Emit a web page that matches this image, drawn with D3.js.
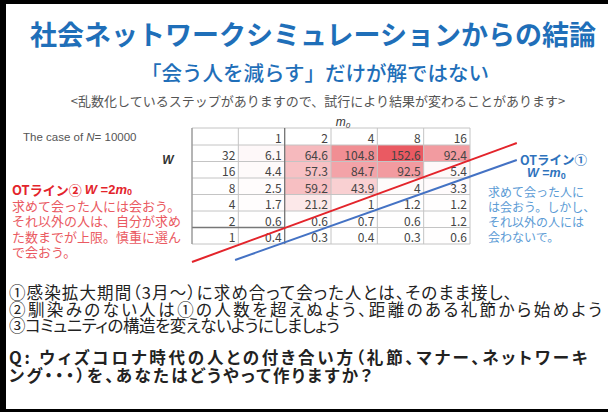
<!DOCTYPE html>
<html>
<head>
<meta charset="utf-8">
<script src="https://cdn.jsdelivr.net/npm/d3@7"></script>
<style>
  body { margin: 0; background: #000; }
  svg { display: block; font-family: "Noto Sans CJK JP", "Noto Sans", sans-serif; }
</style>
</head>
<body>
<div id="main"></div>
<script>
(function(){

  // table data: W rows x m0 columns
  const mValues = [1, 2, 4, 8, 16]
  const wValues = [32, 16, 8, 4, 2, 1]
  const cellValues = [
    [6.1, 64.6, 104.8, 152.6, 92.4],
    [4.4, 57.3, 84.7, 92.5, 5.4],
    [2.5, 59.2, 43.9, 4, 3.3],
    [1.7, 21.2, 1, 1.2, 1.2],
    [0.6, 0.6, 0.7, 0.6, 1.2],
    [0.4, 0.3, 0.4, 0.3, 0.6]
  ]

  // OT lines, endpoints in table grid units [column, row]
  const otLine2 = [[0, 7.09], [7.01, -0.12]]
  const otLine1 = [[0.93, 6.97], [7.01, 0.91]]

  const title = "社会ネットワークシミュレーションからの結論"
  const subtitle = "「会う人を減らす」だけが解ではない"
  const note = "<乱数化しているステップがありますので、試行により結果が変わることがあります>"
  const redLines = ["求めて会った人には会おう。", "それ以外の人は、自分が求め", "た数までが上限。慎重に選ん", "で会おう。"]
  const blueLines = ["求めて会った人に", "は会おう。しかし、", "それ以外の人には", "会わないで。"]
  const bodyLines = [
    "①感染拡大期間（3月～）に求め合って会った人とは、そのまま接し、",
    "②馴染みのない人は①の人数を超えぬよう、距離のある礼節から始めよう",
    "③コミュニティの構造を変えないようにしましょう"
  ]
  const questionLines = [
    "Q: ウィズコロナ時代の人との付き合い方（礼節、マナー、ネットワーキ",
    "ング・・・）を、あなたはどうやって作りますか？"
  ]

  // layout: rendered widths of the long text lines
  const bodyWidths = [503, 593, 331]
  const questionWidths = [578, 363]

  const width = 608
  const height = 412

  const svg = d3.select("#main").append("svg")
    .attr("width", width)
    .attr("height", height)

  svg.append("rect").attr("width", width).attr("height", height).attr("fill", "#000")
  svg.append("rect")
    .attr("x", 6).attr("y", 4)
    .attr("width", width - 6).attr("height", height - 7)
    .attr("fill", "#fff")

  // headings
  svg.append("text")
    .attr("x", 313).attr("y", 33)
    .attr("text-anchor", "middle").attr("dominant-baseline", "central")
    .attr("font-size", 27).attr("font-weight", "bold")
    .attr("fill", "#1f6fb9")
    .text(title)

  svg.append("text")
    .attr("x", 315).attr("y", 72)
    .attr("text-anchor", "middle").attr("dominant-baseline", "central")
    .attr("font-size", 20.5).attr("font-weight", 500)
    .attr("fill", "#1f6fb9")
    .text(subtitle)

  svg.append("text")
    .attr("x", 318).attr("y", 100)
    .attr("text-anchor", "middle").attr("dominant-baseline", "central")
    .attr("font-size", 13)
    .attr("fill", "#555")
    .text(note)

  // table scales
  const colX = d3.scaleLinear().domain([0, 6]).range([192, 470])
  const rowY = d3.scaleLinear().domain([0, 6]).range([145, 244])
  const headTop = 128

  const color = d3.scaleLinear()
    .domain([0, d3.max(cellValues.flat())])
    .range(["#ffffff", "#ea5a62"])

  const table = svg.append("g").attr("font-size", 12).attr("fill", "#444")

  const rows = cellValues.map((vals, i) => vals.map((v, j) => ({ v, i, j }))).flat()

  table.selectAll("rect.cell")
    .data(rows)
    .join("rect")
    .attr("class", "cell")
    .attr("x", d => colX(d.j + 1))
    .attr("y", d => rowY(d.i))
    .attr("width", colX(1) - colX(0))
    .attr("height", rowY(1) - rowY(0))
    .attr("fill", d => color(d.v))

  // grid lines
  const grid = table.append("g").attr("stroke", "#c4c4c4").attr("stroke-width", 1)
  d3.range(0, 7).forEach(k => {
    grid.append("line")
      .attr("x1", colX(0)).attr("x2", colX(6))
      .attr("y1", rowY(k)).attr("y2", rowY(k))
  })
  grid.append("line")
    .attr("x1", colX(0)).attr("x2", colX(6))
    .attr("y1", headTop).attr("y2", headTop)
  d3.range(0, 7).forEach(k => {
    grid.append("line")
      .attr("x1", colX(k)).attr("x2", colX(k))
      .attr("y1", headTop).attr("y2", rowY(6))
  })
  table.append("line")
    .attr("x1", colX(2)).attr("x2", colX(2))
    .attr("y1", headTop).attr("y2", rowY(6))
    .attr("stroke", "#777").attr("stroke-width", 1.3)
  table.append("line")
    .attr("x1", colX(0)).attr("x2", colX(2))
    .attr("y1", rowY(5)).attr("y2", rowY(5))
    .attr("stroke", "#777").attr("stroke-width", 1.3)
  table.append("line")
    .attr("x1", colX(0)).attr("x2", colX(0))
    .attr("y1", headTop).attr("y2", rowY(6))
    .attr("stroke", "#888")

  // header numbers
  table.selectAll("text.head")
    .data(mValues)
    .join("text")
    .attr("class", "head")
    .attr("x", (d, j) => colX(j + 2) - 3)
    .attr("y", (headTop + rowY(0)) / 2 + 1)
    .attr("text-anchor", "end").attr("dominant-baseline", "central")
    .text(d => d)

  table.selectAll("text.wval")
    .data(wValues)
    .join("text")
    .attr("class", "wval")
    .attr("x", colX(1) - 3)
    .attr("y", (d, i) => rowY(i + 0.5) + 1)
    .attr("text-anchor", "end").attr("dominant-baseline", "central")
    .text(d => d)

  table.selectAll("text.cellv")
    .data(rows)
    .join("text")
    .attr("class", "cellv")
    .attr("x", d => colX(d.j + 2) - 3)
    .attr("y", d => rowY(d.i + 0.5) + 1)
    .attr("text-anchor", "end").attr("dominant-baseline", "central")
    .text(d => d.v)

  // axis labels
  const mLabel = svg.append("text")
    .attr("x", 343).attr("y", 122)
    .attr("text-anchor", "middle").attr("dominant-baseline", "central")
    .attr("font-size", 12).attr("font-family", "Liberation Sans, sans-serif")
    .attr("font-style", "italic").attr("fill", "#333")
  mLabel.append("tspan").text("m")
  mLabel.append("tspan").attr("font-size", 8).attr("dy", 3).text("0")

  svg.append("text")
    .attr("x", 168).attr("y", 160)
    .attr("text-anchor", "middle").attr("dominant-baseline", "central")
    .attr("font-size", 12).attr("font-weight", "bold").attr("font-style", "italic")
    .attr("font-family", "Liberation Sans, sans-serif")
    .attr("fill", "#333")
    .text("W")

  const caseLabel = svg.append("text")
    .attr("x", 23).attr("y", 137)
    .attr("dominant-baseline", "central")
    .attr("font-size", 11.5).attr("font-family", "Liberation Sans, sans-serif")
    .attr("fill", "#555")
  caseLabel.append("tspan").text("The case of ")
  caseLabel.append("tspan").attr("font-style", "italic").text("N")
  caseLabel.append("tspan").text("= 10000")

  // OT lines
  const line = d3.line()
    .x(d => colX(d[0]))
    .y(d => rowY(d[1]))

  svg.append("path")
    .datum(otLine2)
    .attr("fill", "none")
    .attr("stroke", "#e3242b")
    .attr("stroke-width", 2)
    .attr("d", line)

  svg.append("path")
    .datum(otLine1)
    .attr("fill", "none")
    .attr("stroke", "#4472c4")
    .attr("stroke-width", 2)
    .attr("d", line)

  // red annotation
  const redHead = svg.append("text")
    .attr("x", 12).attr("y", 189)
    .attr("dominant-baseline", "central")
    .attr("font-size", 13).attr("font-weight", "bold")
    .attr("fill", "#e3242b")
  redHead.append("tspan").text("OTライン② ")
  redHead.append("tspan").attr("font-style", "italic").attr("font-family", "Liberation Sans, sans-serif").text("W")
  redHead.append("tspan").attr("font-family", "Liberation Sans, sans-serif").text(" =2")
  redHead.append("tspan").attr("font-style", "italic").attr("font-family", "Liberation Sans, sans-serif").text("m")
  redHead.append("tspan").attr("font-size", 9).attr("dy", 3).attr("font-family", "Liberation Sans, sans-serif").text("0")

  svg.append("g").selectAll("text")
    .data(redLines)
    .join("text")
    .attr("x", 12)
    .attr("y", (d, i) => 205 + i * 15.5)
    .attr("dominant-baseline", "central")
    .attr("font-size", 13)
    .attr("fill", "#ea5a62")
    .text(d => d)

  // blue annotation
  svg.append("text")
    .attr("x", 520).attr("y", 159)
    .attr("dominant-baseline", "central")
    .attr("font-size", 12.5).attr("font-weight", "bold")
    .attr("fill", "#2f73bd")
    .text("OTライン①")

  const blueHead = svg.append("text")
    .attr("x", 527).attr("y", 173)
    .attr("dominant-baseline", "central")
    .attr("font-size", 12.5).attr("font-weight", "bold")
    .attr("font-family", "Liberation Sans, sans-serif")
    .attr("fill", "#2f73bd")
  blueHead.append("tspan").attr("font-style", "italic").text("W")
  blueHead.append("tspan").text(" =")
  blueHead.append("tspan").attr("font-style", "italic").text("m")
  blueHead.append("tspan").attr("font-size", 9).attr("dy", 3).text("0")

  svg.append("g").selectAll("text")
    .data(blueLines)
    .join("text")
    .attr("x", 488)
    .attr("y", (d, i) => 191 + i * 15)
    .attr("dominant-baseline", "central")
    .attr("font-size", 12)
    .attr("fill", "#5b9bd5")
    .text(d => d)

  // body text
  svg.append("g").selectAll("text")
    .data(bodyLines)
    .join("text")
    .attr("x", 9)
    .attr("y", (d, i) => 292 + i * 16.5)
    .attr("dominant-baseline", "central")
    .attr("font-size", 16.5)
    .attr("textLength", (d, i) => bodyWidths[i])
    .attr("lengthAdjust", "spacing")
    .style("font-feature-settings", "'palt'")
    .attr("fill", "#222")
    .text(d => d)

  svg.append("g").selectAll("text")
    .data(questionLines)
    .join("text")
    .attr("x", 9)
    .attr("y", (d, i) => 357 + i * 18)
    .attr("dominant-baseline", "central")
    .attr("font-size", 16.5).attr("font-weight", "bold")
    .attr("textLength", (d, i) => questionWidths[i])
    .attr("lengthAdjust", "spacing")
    .style("font-feature-settings", "'palt'")
    .attr("fill", "#222")
    .text(d => d)

}())
</script>
</body>
</html>
